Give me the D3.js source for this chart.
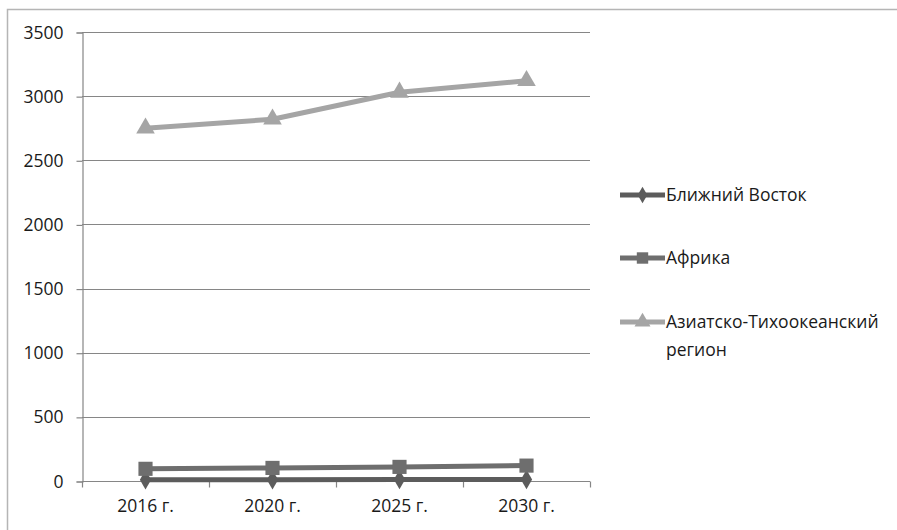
<!DOCTYPE html>
<html>
<head>
<meta charset="utf-8">
<script src="https://cdn.jsdelivr.net/npm/d3@7"></script>
<style>
  html, body { margin: 0; padding: 0; background: #fff; }
  svg { display: block; }
  text { font-family: "Open Sans", "Noto Sans", sans-serif; fill: #1a1a1a; }
</style>
</head>
<body>
<svg id="chart" width="897" height="530"></svg>
<script>
// Years on the horizontal axis
const years = ["2016 г.", "2020 г.", "2025 г.", "2030 г."];

// Series values
const middleEast = [10, 10, 11, 12];
const africa = [95, 102, 110, 120];
const asiaPacific = [2750, 2820, 3030, 3120];

const seriesNames = ["Ближний Восток", "Африка", "Азиатско-Тихоокеанский регион"];
const yTicks = [0, 500, 1000, 1500, 2000, 2500, 3000, 3500];

const series = [
  { name: seriesNames[0], values: middleEast, color: "#5c5c5c", marker: "diamond" },
  { name: seriesNames[1], values: africa, color: "#6e6e6e", marker: "square" },
  { name: seriesNames[2], values: asiaPacific, color: "#a5a5a5", marker: "triangle" }
];

const FONT = 17.5;
const svg = d3.select("#chart");

// Outer chart frame (runs past the right and bottom edges)
svg.append("rect")
  .attr("x", 7.5).attr("y", 9.5)
  .attr("width", 1000).attr("height", 1000)
  .attr("fill", "none").attr("stroke", "#b5b5b5").attr("stroke-width", 1.5);

const plot = { left: 82, right: 590, top: 32, bottom: 481 };

const x = d3.scaleBand().domain(years).range([plot.left, plot.right]);
const y = d3.scaleLinear().domain([0, 3500]).range([plot.bottom, plot.top]);

// Horizontal gridlines
svg.append("g").selectAll("line").data(yTicks.filter(d => d > 0)).join("line")
  .attr("x1", plot.left).attr("x2", plot.right)
  .attr("y1", d => Math.round(y(d)) + 0.5).attr("y2", d => Math.round(y(d)) + 0.5)
  .attr("stroke", "#868686").attr("stroke-width", 1.2);

// Y axis
const yAxis = svg.append("g")
  .attr("transform", `translate(${plot.left + 0.5},0.5)`)
  .call(d3.axisLeft(y).tickValues(yTicks).tickSize(6).tickPadding(13).tickFormat(d3.format("d")));
yAxis.select(".domain").attr("stroke", "#868686").attr("stroke-width", 1.2);
yAxis.selectAll(".tick line").attr("stroke", "#868686").attr("stroke-width", 1.2);
yAxis.selectAll("text").attr("font-size", FONT).attr("fill", "#1a1a1a")
  .attr("font-family", "'Open Sans', 'Noto Sans', sans-serif");

// X axis with ticks at category boundaries
const xAxis = svg.append("g")
  .attr("transform", `translate(0,${plot.bottom + 0.5})`);
xAxis.append("line")
  .attr("x1", plot.left).attr("x2", plot.right)
  .attr("stroke", "#868686").attr("stroke-width", 1.2);
const bounds = years.map(d => x(d)).concat([plot.right]);
xAxis.selectAll(".bt").data(bounds).join("line").attr("class", "bt")
  .attr("x1", d => Math.round(d) + 0.5).attr("x2", d => Math.round(d) + 0.5)
  .attr("y1", 0).attr("y2", 6)
  .attr("stroke", "#868686").attr("stroke-width", 1.2);
xAxis.selectAll("text").data(years).join("text")
  .attr("x", d => x(d) + x.bandwidth() / 2)
  .attr("y", 30.5)
  .attr("text-anchor", "middle")
  .attr("font-size", FONT)
  .text(d => d);

// Marker shapes
const markerPath = {
  diamond: d3.symbol().type(d3.symbolDiamond).size(110),
  square: d3.symbol().type(d3.symbolSquare).size(200),
  triangle: d3.symbol().type(d3.symbolTriangle).size(150)
};

const line = d3.line()
  .x((d, i) => x(years[i]) + x.bandwidth() / 2)
  .y(d => y(d));

series.forEach(s => {
  const g = svg.append("g");
  g.append("path")
    .attr("d", line(s.values))
    .attr("fill", "none").attr("stroke", s.color).attr("stroke-width", 5)
    .attr("stroke-linejoin", "round");
  g.selectAll("path.m").data(s.values).join("path").attr("class", "m")
    .attr("d", markerPath[s.marker]())
    .attr("transform", (d, i) => `translate(${x(years[i]) + x.bandwidth() / 2},${y(d)})`)
    .attr("fill", s.color);
});

// Legend
const legendRows = [195, 258, 322];
const small = {
  diamond: d3.symbol().type(d3.symbolDiamond).size(80),
  square: d3.symbol().type(d3.symbolSquare).size(130),
  triangle: d3.symbol().type(d3.symbolTriangle).size(110)
};
series.forEach((s, i) => {
  const g = svg.append("g").attr("transform", `translate(620,${legendRows[i]})`);
  g.append("line").attr("x1", 0).attr("x2", 45)
    .attr("stroke", s.color).attr("stroke-width", 5);
  g.append("path").attr("d", small[s.marker]())
    .attr("transform", "translate(22.5,0)").attr("fill", s.color);
  const t = g.append("text").attr("x", 46).attr("y", 6).attr("font-size", FONT);
  if (i === 2) {
    t.append("tspan").attr("x", 46).text("Азиатско-Тихоокеанский");
    t.append("tspan").attr("x", 46).attr("dy", 28).text("регион");
  } else {
    t.text(s.name);
  }
});
</script>
</body>
</html>
